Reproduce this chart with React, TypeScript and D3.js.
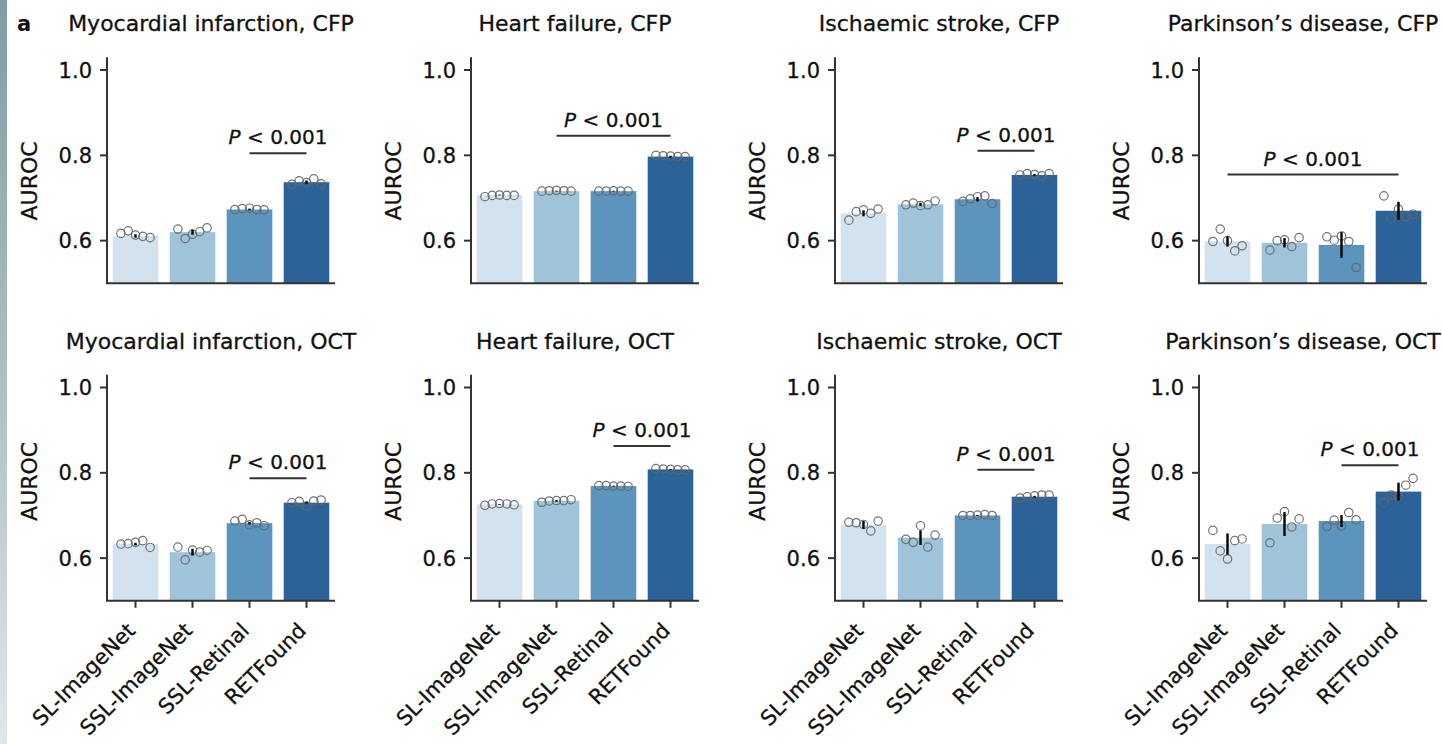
import React from "react";
import * as d3 from "d3";

const models = ["SL-ImageNet", "SSL-ImageNet", "SSL-Retinal", "RETFound"];
const barColors = ["#d3e2ef", "#9fc4d9", "#5b94bc", "#2b6398"];

const titles = [
  "Myocardial infarction, CFP",
  "Heart failure, CFP",
  "Ischaemic stroke, CFP",
  "Parkinson\u2019s disease, CFP",
  "Myocardial infarction, OCT",
  "Heart failure, OCT",
  "Ischaemic stroke, OCT",
  "Parkinson\u2019s disease, OCT",
];

// mean AUROC per panel, per model
const means = [
  [0.611, 0.62, 0.673, 0.737],
  [0.707, 0.716, 0.716, 0.797],
  [0.664, 0.685, 0.697, 0.754],
  [0.598, 0.595, 0.59, 0.67],
  [0.633, 0.614, 0.682, 0.73],
  [0.726, 0.734, 0.769, 0.808],
  [0.678, 0.648, 0.7, 0.744],
  [0.633, 0.68, 0.687, 0.756],
];

// error bar half-lengths
const errors = [
  [0.004, 0.006, 0.002, 0.004],
  [0.001, 0.001, 0.001, 0.002],
  [0.007, 0.004, 0.005, 0.002],
  [0.012, 0.011, 0.03, 0.021],
  [0.003, 0.008, 0.003, 0.002],
  [0.001, 0.002, 0.001, 0.001],
  [0.009, 0.017, 0.001, 0.002],
  [0.025, 0.028, 0.014, 0.021],
];

// individual runs (5 per model), ordered left to right as drawn
const points = [
  [
    [0.617, 0.623, 0.613, 0.61, 0.607],
    [0.627, 0.605, 0.615, 0.621, 0.63],
    [0.673, 0.675, 0.676, 0.673, 0.672],
    [0.732, 0.74, 0.736, 0.745, 0.733],
  ],
  [
    [0.703, 0.706, 0.707, 0.706, 0.706],
    [0.716, 0.717, 0.718, 0.717, 0.716],
    [0.716, 0.716, 0.717, 0.716, 0.716],
    [0.8, 0.799, 0.798, 0.797, 0.797],
  ],
  [
    [0.648, 0.668, 0.672, 0.664, 0.674],
    [0.684, 0.688, 0.682, 0.684, 0.693],
    [0.692, 0.698, 0.703, 0.705, 0.687],
    [0.754, 0.757, 0.755, 0.752, 0.757],
  ],
  [
    [0.598, 0.627, 0.6, 0.576, 0.588],
    [0.578, 0.6, 0.602, 0.586, 0.607],
    [0.609, 0.601, 0.611, 0.598, 0.537],
    [0.705, 0.652, 0.674, 0.656, 0.662],
  ],
  [
    [0.633, 0.634, 0.637, 0.641, 0.625],
    [0.626, 0.596, 0.619, 0.614, 0.618],
    [0.687, 0.691, 0.678, 0.683, 0.676],
    [0.73, 0.733, 0.722, 0.734, 0.736],
  ],
  [
    [0.724, 0.727, 0.728, 0.727, 0.725],
    [0.731, 0.734, 0.735, 0.735, 0.737],
    [0.77, 0.77, 0.769, 0.769, 0.768],
    [0.81, 0.809, 0.808, 0.807, 0.807],
  ],
  [
    [0.684, 0.683, 0.679, 0.664, 0.687],
    [0.644, 0.637, 0.676, 0.626, 0.654],
    [0.7, 0.7, 0.701, 0.702, 0.7],
    [0.741, 0.744, 0.746, 0.748, 0.748],
  ],
  [
    [0.665, 0.617, 0.598, 0.641, 0.645],
    [0.636, 0.694, 0.709, 0.673, 0.692],
    [0.674, 0.689, 0.675, 0.707, 0.69],
    [0.73, 0.748, 0.745, 0.771, 0.787],
  ],
];

// significance bracket: first model index (to RETFound) and AUROC level
const bracketFrom = [2, 1, 2, 0, 2, 2, 2, 2];
const bracketLevel = [0.805, 0.846, 0.811, 0.755, 0.787, 0.863, 0.807, 0.818];
const pText = "< 0.001";

const yTicks = [0.6, 0.8, 1.0];
const yDomain = [0.5, 1.0];
const yAxisTop = 1.03;
const jitter = [-0.32, -0.16, 0, 0.16, 0.32];

const FONT = "DejaVu Sans, Liberation Sans, Arial, sans-serif";
const TXT = { fill: "#111", stroke: "#111", strokeWidth: 0.3, fontFamily: FONT };

const W = 1442;
const H = 744;
const axX0 = 107;
const panelDX = 364;
const axW = 228;
const rowY = [
  { bottom: 283.3, top: 70 },
  { bottom: 600.8, top: 387.5 },
];
const aurocCenter = [0.74, 0.78];

function Panel({ idx }: { idx: number }) {
  const row = Math.floor(idx / 4);
  const col = idx % 4;
  const ax = axX0 + col * panelDX;
  const y = d3.scaleLinear().domain(yDomain).range([rowY[row].bottom, rowY[row].top]);
  const x = d3
    .scaleBand<string>()
    .domain(models)
    .range([ax, ax + axW])
    .paddingInner(0.2)
    .paddingOuter(0.1);
  const bw = x.bandwidth();
  const base = y(yDomain[0]);
  const axisColor = "#333";
  const cx = (m: string) => (x(m) as number) + bw / 2;
  const bFrom = models[bracketFrom[idx]];
  const bTo = models[3];
  const bY = y(bracketLevel[idx]);
  return (
    <g>
      <text x={ax + axW / 2 - 10} y={y(1.0) - 39} textAnchor="middle" fontSize={22} {...TXT}>
        {titles[idx]}
      </text>
      {models.map((m, i) => (
        <rect
          key={m}
          x={x(m)}
          y={y(means[idx][i])}
          width={bw}
          height={base - y(means[idx][i])}
          fill={barColors[i]}
        />
      ))}
      {models.map((m, i) => (
        <g key={"p" + m}>
          {points[idx][i].map((v, k) => (
            <circle
              key={k}
              cx={cx(m) + jitter[k] * bw}
              cy={y(v)}
              r={4.2}
              fill="none"
              stroke="#666"
              strokeWidth={1.2}
              strokeOpacity={0.9}
            />
          ))}
          <line
            x1={cx(m)}
            x2={cx(m)}
            y1={y(means[idx][i] - errors[idx][i])}
            y2={y(means[idx][i] + errors[idx][i])}
            stroke="#000"
            strokeWidth={2.4}
          />
        </g>
      ))}
      {/* y axis */}
      <line x1={ax} x2={ax} y1={base} y2={y(yAxisTop)} stroke={axisColor} strokeWidth={2} />
      {yTicks.map((t) => (
        <g key={t}>
          <line x1={ax - 7} x2={ax} y1={y(t)} y2={y(t)} stroke={axisColor} strokeWidth={2} />
          <text x={ax - 15} y={y(t)} dy="0.36em" textAnchor="end" fontSize={21} {...TXT}>
            {t.toFixed(1)}
          </text>
        </g>
      ))}
      <text
        transform={`translate(${ax - 70},${y(aurocCenter[row])}) rotate(-90)`}
        textAnchor="middle"
        fontSize={22}
        {...TXT}
      >
        AUROC
      </text>
      {/* x axis */}
      <line x1={ax - 1} x2={ax + axW} y1={base} y2={base} stroke={axisColor} strokeWidth={2} />
      {row === 1 &&
        models.map((m) => (
          <g key={"xt" + m}>
            <line x1={cx(m)} x2={cx(m)} y1={base} y2={base + 7} stroke={axisColor} strokeWidth={2} />
            <text
              transform={`translate(${cx(m) + 1},${base + 31}) rotate(-45)`}
              textAnchor="end"
              fontSize={21}
              {...TXT}
            >
              {m}
            </text>
          </g>
        ))}
      {/* significance */}
      <line x1={cx(bFrom)} x2={cx(bTo)} y1={bY} y2={bY} stroke="#333" strokeWidth={2} />
      <text x={(cx(bFrom) + cx(bTo)) / 2} y={bY - 9} textAnchor="middle" fontSize={20} {...TXT}>
        <tspan fontStyle="italic">P</tspan>
        {" " + pText}
      </text>
    </g>
  );
}

export default function App() {
  return (
    <svg
      width={W}
      height={H}
      viewBox={`0 0 ${W} ${H}`}
      style={{ position: "absolute", left: 0, top: 0, background: "#fff" }}
    >
      <defs>
        <linearGradient id="edge" x1="0" y1="0" x2="0" y2="1">
          <stop offset="0" stopColor="#819ca2" />
          <stop offset="0.6" stopColor="#b6c6ca" />
          <stop offset="1" stopColor="#e2e7e9" />
        </linearGradient>
      </defs>
      <rect x={0} y={0} width={W} height={H} fill="#fff" />
      <rect x={0} y={0} width={7} height={H} fill="url(#edge)" />
      <text x={17} y={31} fontSize={21} fontWeight="bold" fontFamily={FONT} fill="#111">
        a
      </text>
      {titles.map((_, i) => (
        <Panel key={i} idx={i} />
      ))}
    </svg>
  );
}
